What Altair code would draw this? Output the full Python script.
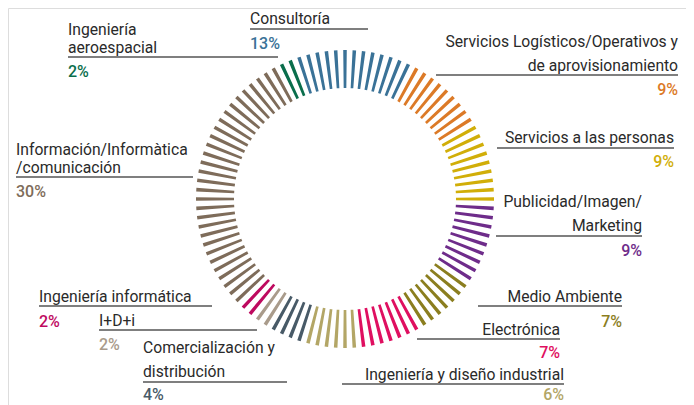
import math
import altair as alt
import pandas as pd

# ---------------- data ----------------
categories = [
    "Consultoría",
    "Servicios Logísticos/Operativos y de aprovisionamiento",
    "Servicios a las personas",
    "Publicidad/Imagen/Marketing",
    "Medio Ambiente",
    "Electrónica",
    "Ingeniería y diseño industrial",
    "Comercialización y distribución",
    "I+D+i",
    "Ingeniería informática",
    "Información/Informàtica/comunicación",
    "Ingeniería aeroespacial",
]
percents = [13, 9, 9, 9, 7, 7, 6, 4, 2, 2, 30, 2]
label_lines = [
    ["Consultoría"],
    ["Servicios Logísticos/Operativos y", "de aprovisionamiento"],
    ["Servicios a las personas"],
    ["Publicidad/Imagen/", "Marketing"],
    ["Medio Ambiente"],
    ["Electrónica"],
    ["Ingeniería y diseño industrial"],
    ["Comercialización y", "distribución"],
    ["I+D+i"],
    ["Ingeniería informática"],
    ["Información/Informàtica", "/comunicación"],
    ["Ingeniería", "aeroespacial"],
]
pct_labels = [f"{p}%" for p in percents]

# ---------------- styles / layout ----------------
colors = ["#3a7297", "#dc7a27", "#d1ae08", "#6e2c8a", "#8b7e1f", "#df0f60",
          "#b3a666", "#485a67", "#a99b8b", "#be0a5f", "#7e6c5a", "#0a6e4c"]
OFF = 8  # page margin
# anchor x, align, baselines of label lines, rule y, rule x0, rule x1, pct baseline  (page px)
layout = [
    (250, "left", [24], 29, 250, 368, 49),
    (678, "right", [47, 71], 75, 436, 678, 95),
    (674, "right", [143], 148, 497, 674, 167),
    (642, "right", [207, 231], 236, 496, 642, 256),
    (622, "right", [302], 306, 478, 622, 327),
    (560, "right", [335], 339, 417, 560, 358),
    (564, "right", [380], 384, 342, 564, 400),
    (143, "left", [353, 377], 382, 143, 287, 400),
    (99, "left", [326], 330, 99, 257, 350),
    (39, "left", [302], 306, 39, 212, 327),
    (16, "left", [155, 173], 177, 16, 193, 197),
    (68, "left", [35, 53], 57, 68, 278, 77),
]
CX, CY, R_OUT, R_IN = 345, 199, 149, 111
STRIPE = 0.38
FONT = "Roboto"
TEXT_COLOR = "#2a2a2a"

# ---------------- stripes ----------------
rows = []
k = 0
for cat, p, col in zip(categories, percents, colors):
    for _ in range(p):
        rows.append({"cat": cat, "t0": k - STRIPE / 2, "t1": k + STRIPE / 2, "color": col})
        k += 1
stripes = pd.DataFrame(rows)
start = math.radians(342)

ring = alt.Chart(stripes).mark_arc(radius=R_OUT, radius2=R_IN).encode(
    theta=alt.Theta("t0:Q", scale=alt.Scale(domain=[0, 100], range=[start, start + 2 * math.pi]), stack=False),
    theta2="t1:Q",
    color=alt.Color("color:N", scale=None),
    x=alt.value(CX - OFF),
    y=alt.value(CY - OFF),
)

# ---------------- labels ----------------
lab_rows, pct_rows, rule_rows = [], [], []
for lines, pct, col, (ax, al, bls, ry, rx0, rx1, py) in zip(label_lines, pct_labels, colors, layout):
    for line, b in zip(lines, bls):
        lab_rows.append({"text": line, "x": ax - OFF, "y": b - OFF, "align": al})
    pct_rows.append({"text": pct, "x": ax - OFF, "y": py - OFF, "align": al, "color": col})
    rule_rows.append({"x": rx0 - OFF, "x2": rx1 - OFF, "y": ry - OFF})
labs = pd.DataFrame(lab_rows)
pcts = pd.DataFrame(pct_rows)
rules = pd.DataFrame(rule_rows)

layers = [ring]
for al in ["left", "right"]:
    layers.append(
        alt.Chart(labs[labs["align"] == al]).mark_text(
            align=al, baseline="alphabetic", font=FONT, fontSize=15.7, color=TEXT_COLOR
        ).encode(x=alt.X("x:Q", scale=None), y=alt.Y("y:Q", scale=None), text="text:N")
    )
    layers.append(
        alt.Chart(pcts[pcts["align"] == al]).mark_text(
            align=al, baseline="alphabetic", font=FONT, fontSize=16, fontWeight=500
        ).encode(x=alt.X("x:Q", scale=None), y=alt.Y("y:Q", scale=None), text="text:N",
                 color=alt.Color("color:N", scale=None))
    )
layers.append(
    alt.Chart(rules).mark_rule(color="#555555", strokeWidth=1.3).encode(
        x=alt.X("x:Q", scale=None), x2="x2:Q", y=alt.Y("y:Q", scale=None)
    )
)

chart = alt.layer(*layers).properties(
    width=678, height=397, autosize=alt.AutoSizeParams(type="none"), padding=0
).configure_view(stroke=None).configure(background="white")

chart.save("out.html", embed_options={"renderer": "svg", "actions": False})
